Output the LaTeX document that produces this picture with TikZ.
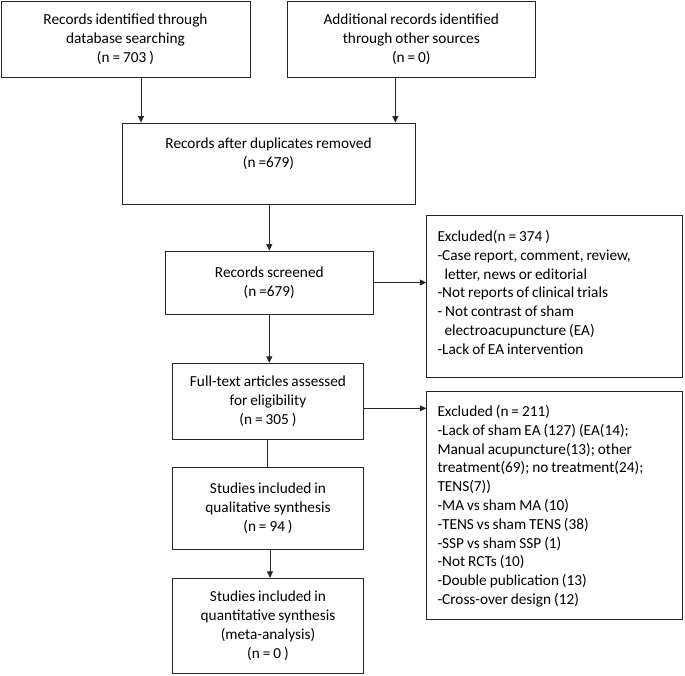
\documentclass[tikz,border=0pt]{standalone}
\usepackage{fontspec}
\setmainfont[WordSpace={0.85,0.5,0.5}]{Carlito}
\usetikzlibrary{arrows.meta}
\begin{document}
\begin{tikzpicture}[x=1pt,y=1pt,
  box/.style={draw=black!85, line width=0.9pt, inner sep=0pt, align=center},
  txt/.style={inner sep=0pt, align=center},
  ltxt/.style={inner sep=0pt, align=left, anchor=west},
  arr/.style={draw=black!85, line width=0.9pt, -{Triangle[length=6.5pt,width=6pt]}},
  lin/.style={draw=black!85, line width=0.9pt},
  every node/.style={font=\fontsize{15.3}{18.8}\selectfont}]
\useasboundingbox (0,0) rectangle (685,-675);
\node[box, minimum width=249pt, minimum height=76.5pt] (b1) at (125.5,-39.2)
  {Records identified through\\database searching\\(n = 703 )};
\node[box, minimum width=247.5pt, minimum height=76.5pt] (b2) at (411.3,-39.2)
  {Additional records identified\\through other sources\\(n = 0)};
\node[box, minimum width=293pt, minimum height=81pt] (b3) at (268.5,-163.5) {};
\node[txt] (t3) at (268.5,-153.7) {Records after duplicates removed\\(n =679)};
\node[box, minimum width=208.5pt, minimum height=63pt] (b4) at (269.3,-282.5)
  {Records screened\\(n =679)};
\node[box, minimum width=255.8pt, minimum height=162pt] (b5) at (554.6,-296.7) {};
\node[ltxt] (t5) at (437.3,-292.3) {Excluded(n = 374 )\\-Case report, comment, review,\\\hspace*{7pt}letter, news or editorial\\-Not reports of clinical trials\\- Not contrast of sham\\\hspace*{7pt}electroacupuncture (EA)\\-Lack of EA intervention};
\node[box, minimum width=255.8pt, minimum height=228pt] (b6) at (554.6,-505) {};
\node[ltxt] (t6) at (437.3,-506.2) {Excluded (n = 211)\\-Lack of sham EA (127) (EA(14);\\Manual acupuncture(13); other\\treatment(69); no treatment(24);\\TENS(7))\\-MA vs sham MA (10)\\-TENS vs sham TENS (38)\\-SSP vs sham SSP (1)\\-Not RCTs (10)\\-Double publication (13)\\-Cross-over design (12)};
\node[box, minimum width=190.6pt, minimum height=76pt] (full) at (268,-401.3)
  {Full-text articles assessed\\for eligibility\\(n = 305 )};
\node[box, minimum width=190.6pt, minimum height=82pt] (qual) at (268,-508.3)
  {Studies included in\\qualitative synthesis\\(n = 94 )};
\node[box, minimum width=190.6pt, minimum height=95pt] (quant) at (268,-625.8)
  {Studies included in\\quantitative synthesis\\(meta-analysis)\\(n = 0 )};
\coordinate (x1) at (141,0);
\coordinate (x2) at (395.4,0);
\draw[arr] (x1 |- b1.south) -- (x1 |- b3.north);
\draw[arr] (x2 |- b2.south) -- (x2 |- b3.north);
\draw[arr] (b4.north |- b3.south) -- (b4.north);
\draw[arr] (b4.east) -- (b4.east -| b5.west);
\draw[arr] (b4.south) -- (b4.south |- full.north);
\draw[arr] ([yshift=-7pt]full.east) -- ([yshift=-7pt]full.east -| b6.west);
\draw[lin] ([xshift=-0.5pt]full.south) -- ([xshift=-0.5pt]full.south |- qual.north);
\draw[arr] ([xshift=2pt]qual.south) -- ([xshift=2pt]qual.south |- quant.north);
\end{tikzpicture}
\end{document}
